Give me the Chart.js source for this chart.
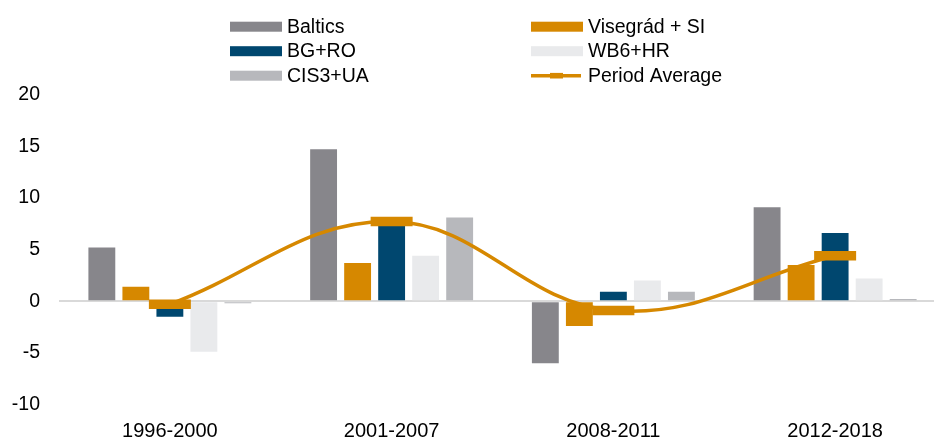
<!DOCTYPE html>
<html>
<head>
    <title>Growth by region and period</title>
    <script src="https://cdn.jsdelivr.net/npm/chart.js"></script>
    <style>
        html, body { margin: 0; padding: 0; overflow: hidden; background: #fff; }
        #wrap { width: 946px; height: 439px; position: relative; }
    </style>
</head>
<body>
    <div id="wrap"><canvas id="growthChart"></canvas></div>

    <script>
    const periods = ['1996-2000', '2001-2007', '2008-2011', '2012-2018'];
    const baltics = [5.2, 14.7, -6.0, 9.1];
    const visegrad = [1.4, 3.7, -2.4, 3.5];
    const bgRo = [-1.5, 7.4, 0.9, 6.6];
    const wb6Hr = [-4.9, 4.4, 2.0, 2.2];
    const cis3Ua = [-0.2, 8.1, 0.9, 0.2];
    const periodAverage = [-0.3, 7.7, -0.9, 4.4];
    const yTicks = [-10, -5, 0, 5, 10, 15, 20];

    const ORANGE = '#D68800';
    const FONT = '"Liberation Sans", Arial, sans-serif';

    // legend in two columns, like the original
    const legendPlugin = {
        id: 'twoColLegend',
        afterDraw(chart) {
            const ctx = chart.ctx;
            const cols = [230, 531];
            const rows = [26.7, 51.2, 75.7];
            ctx.save();
            ctx.font = '19.5px ' + FONT;
            ctx.textBaseline = 'middle';
            chart.data.datasets.forEach((ds, i) => {
                const x = cols[i % 2];
                const y = rows[Math.floor(i / 2)];
                if (ds.type === 'line') {
                    ctx.strokeStyle = ds.borderColor;
                    ctx.lineWidth = 3.5;
                    ctx.beginPath();
                    ctx.moveTo(x, y);
                    ctx.lineTo(x + 50, y);
                    ctx.stroke();
                    ctx.fillStyle = ds.borderColor;
                    ctx.fillRect(x + 19, y - 2.8, 13, 5.6);
                } else {
                    ctx.fillStyle = ds.backgroundColor;
                    ctx.fillRect(x, y - 5, 52, 10);
                }
                ctx.fillStyle = '#000';
                ctx.fillText(ds.label, x + 57, y + 0.5);
            });
            ctx.restore();
        }
    };

    const ctx = document.getElementById('growthChart').getContext('2d');
    new Chart(ctx, {
        type: 'bar',
        data: {
            labels: periods,
            datasets: [
                { label: 'Baltics', data: baltics, backgroundColor: '#87868B' },
                { label: 'Visegrád + SI', data: visegrad, backgroundColor: ORANGE },
                { label: 'BG+RO', data: bgRo, backgroundColor: '#00476F' },
                { label: 'WB6+HR', data: wb6Hr, backgroundColor: '#E9EAEC' },
                { label: 'CIS3+UA', data: cis3Ua, backgroundColor: '#B7B8BC' },
                {
                    type: 'line',
                    label: 'Period Average',
                    data: periodAverage,
                    borderColor: ORANGE,
                    borderWidth: 3.5,
                    tension: 0.4,
                    fill: false,
                    pointStyle: 'line',
                    pointRadius: 21,
                    pointHoverRadius: 21,
                    pointBorderWidth: 9.5,
                    pointBackgroundColor: ORANGE,
                    pointBorderColor: ORANGE,
                    order: -1
                }
            ]
        },
        options: {
            responsive: true,
            maintainAspectRatio: false,
            animation: false,
            categoryPercentage: 0.767,
            barPercentage: 0.79,
            layout: { autoPadding: false, padding: { top: 94.5, left: 0, right: 0, bottom: 0 } },
            plugins: {
                legend: { display: false },
                tooltip: { enabled: false }
            },
            scales: {
                x: {
                    grid: { display: false },
                    border: { display: false },
                    ticks: { color: '#000', font: { family: FONT, size: 20 }, padding: 7, maxRotation: 0 },
                    afterFit: s => {
                        s.height = 34.5;
                        s.paddingLeft = 0;
                        s.paddingRight = 0;
                    }
                },
                y: {
                    min: -10,
                    max: 20,
                    afterBuildTicks: s => { s.ticks = yTicks.map(v => ({ value: v })); },
                    grid: {
                        drawTicks: false,
                        color: c => c.tick && c.tick.value === 0 ? '#D9D9D9' : 'rgba(0,0,0,0)',
                        lineWidth: 2
                    },
                    border: { display: false },
                    ticks: { color: '#000', font: { family: FONT, size: 19.5 }, padding: 19 },
                    afterFit: s => { s.width = 59; }
                }
            }
        },
        plugins: [legendPlugin]
    });
    </script>
</body>
</html>
